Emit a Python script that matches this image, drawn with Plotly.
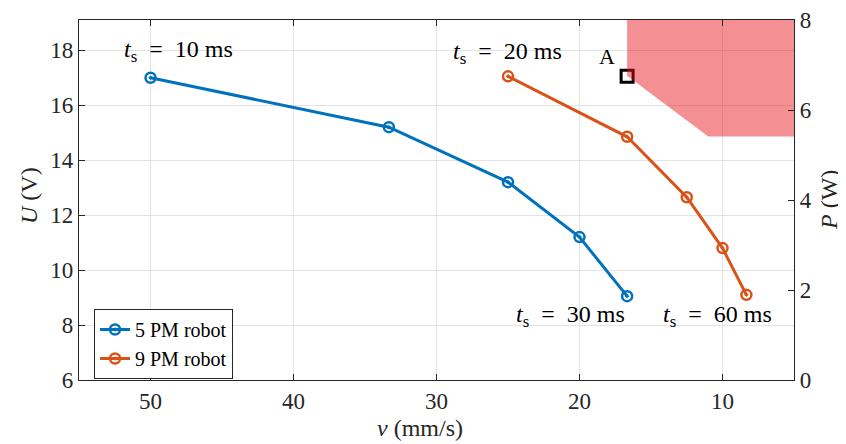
import plotly.graph_objects as go

# data
v5 = [50, 33.33, 25, 20, 16.67]
U5 = [17.0, 15.2, 13.2, 11.2, 9.05]
v9 = [25, 16.67, 12.5, 10, 8.33]
U9 = [17.05, 14.85, 12.65, 10.8, 9.1]
region_v = [16.67, 16.67, 11.0, 5, 5, 16.67]
region_P = [8, 6.76, 5.41, 5.41, 8, 8]
A_v = [16.67]
A_U = [17.05]
xticks = [10, 20, 30, 40, 50]
yticks = [6, 8, 10, 12, 14, 16, 18]
y2ticks = [0, 2, 4, 6, 8]

BLUE = "#0072BD"
ORANGE = "#D95319"
FONT = "Liberation Serif"
TXT = "#262626"

fig = go.Figure()
fig.add_trace(go.Scatter(x=region_v, y=region_P, yaxis="y2", fill="toself",
                         fillcolor="rgba(232,20,30,0.48)", line=dict(width=0),
                         mode="lines", showlegend=False, hoverinfo="skip"))
fig.add_trace(go.Scatter(x=v5, y=U5, mode="lines+markers", name="5 PM robot",
                         line=dict(color=BLUE, width=3),
                         marker=dict(symbol="circle-open-dot", size=10,
                                     line=dict(color=BLUE, width=2.5))))
fig.add_trace(go.Scatter(x=v9, y=U9, mode="lines+markers", name="9 PM robot",
                         line=dict(color=ORANGE, width=3),
                         marker=dict(symbol="circle-open-dot", size=10,
                                     line=dict(color=ORANGE, width=2.5))))
fig.add_trace(go.Scatter(x=A_v, y=A_U, mode="markers", showlegend=False,
                         marker=dict(symbol="square-open", size=12, color="black",
                                     line=dict(color="black", width=3))))

# page has an 8px body margin: figure origin sits at page (8, 8)
OFF = 8
W, H = 846 - OFF, 444 - OFF
L, R, T, B = 79, 794, 20, 380  # plot area in page pixels

def px(x):
    return (x - L) / (R - L)

def py(y):
    return (B - y) / (B - T)

anns = [
    dict(x=178, y=51, text="<i>t</i><sub>s</sub> = 10 ms", size=24),
    dict(x=507, y=53, text="<i>t</i><sub>s</sub> = 20 ms", size=24),
    dict(x=607, y=57, text="A", size=22),
    dict(x=570, y=316, text="<i>t</i><sub>s</sub> = 30 ms", size=24),
    dict(x=717, y=316, text="<i>t</i><sub>s</sub> = 60 ms", size=24),
]
for a in anns:
    fig.add_annotation(x=px(a["x"]), y=py(a["y"]),
                       xref="paper", yref="paper", text=a["text"].replace(" = ", "  =  "),
                       showarrow=False,
                       font=dict(family=FONT, size=a["size"], color="black"),
                       xanchor="center", yanchor="middle")

# axis titles
fig.add_annotation(x=px(420), y=py(428), xref="paper", yref="paper",
                   text="<i>v</i> (mm/s)", showarrow=False,
                   font=dict(family=FONT, size=24, color=TXT), xanchor="center", yanchor="middle")
fig.add_annotation(x=px(29), y=py(195), xref="paper", yref="paper",
                   text="<i>U</i> (V)", showarrow=False, textangle=-90,
                   font=dict(family=FONT, size=24, color=TXT), xanchor="center", yanchor="middle")
fig.add_annotation(x=px(829), y=py(200), xref="paper", yref="paper",
                   text="<i>P</i> (W)", showarrow=False, textangle=-90,
                   font=dict(family=FONT, size=24, color=TXT), xanchor="center", yanchor="middle")

axis_common = dict(showline=True, linecolor=TXT, linewidth=1.2,
                   ticks="inside", ticklen=6, tickcolor=TXT, automargin=False,
                   ticklabeloverflow="allow",
                   tickfont=dict(family=FONT, size=23, color=TXT), zeroline=False)

fig.update_layout(
    width=W, height=H,
    margin=dict(l=L - OFF, r=W - (R - OFF), t=T - OFF, b=H - (B - OFF)),
    paper_bgcolor="white", plot_bgcolor="white",
    font=dict(family=FONT, color=TXT),
    xaxis=dict(range=[55, 5], tickvals=xticks, mirror="ticks", showgrid=True,
               gridcolor="#e3e3e3", gridwidth=1, **axis_common),
    yaxis=dict(range=[6, 19.1], tickvals=yticks, showgrid=True, gridcolor="#e3e3e3",
               **axis_common),
    yaxis2=dict(range=[0, 8.0001], tickvals=y2ticks, overlaying="y", side="right",
                showgrid=False, **axis_common),
    legend=dict(x=px(94), y=py(309), xanchor="left", yanchor="top",
                bgcolor="white", bordercolor=TXT, borderwidth=1,
                font=dict(family=FONT, size=20, color="black"),
                tracegroupgap=0, itemwidth=30),
    showlegend=True,
)

fig.write_html("out.html")
